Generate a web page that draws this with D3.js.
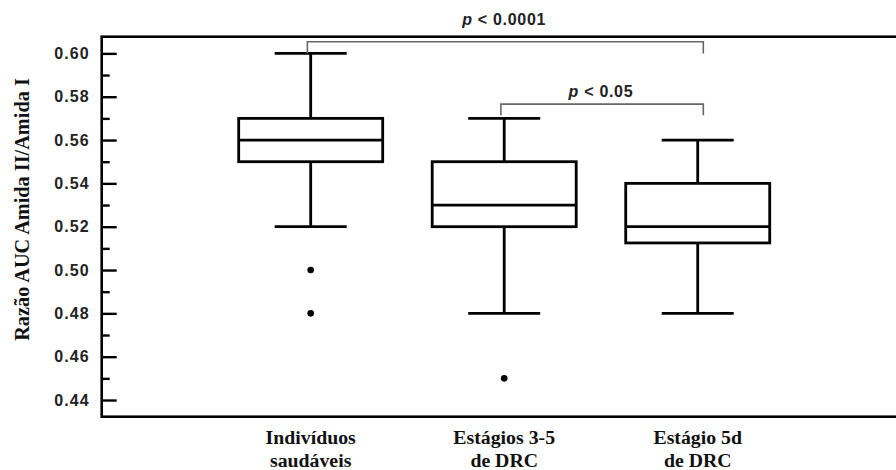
<!DOCTYPE html>
<html>
<head>
<meta charset="utf-8">
<script src="https://cdn.jsdelivr.net/npm/d3@7"></script>
<style>
  body { margin: 0; background: #fff; }
  svg { display: block; }
</style>
</head>
<body>
<div id="chart"></div>
<script>
// box plot data
var groups = ["Indivíduos saudáveis", "Estágios 3-5 de DRC", "Estágio 5d de DRC"];
var groupLines = [["Indivíduos", "saudáveis"], ["Estágios 3-5", "de DRC"], ["Estágio 5d", "de DRC"]];
var whiskerLow = [0.52, 0.48, 0.48];
var q1 = [0.55, 0.52, 0.5125];
var medians = [0.56, 0.53, 0.52];
var q3 = [0.57, 0.55, 0.54];
var whiskerHigh = [0.60, 0.57, 0.56];
var outliers = [[0.50, 0.48], [0.45], []];
var majorTicks = [0.44, 0.46, 0.48, 0.50, 0.52, 0.54, 0.56, 0.58, 0.60];
var minorTicks = [0.45, 0.47, 0.49, 0.51, 0.53, 0.55, 0.57, 0.59];

// significance brackets: from group, to group, bar level, leg end, label
var brackets = [
  { from: 0, to: 2, level: 0.6054, leg: 0.60, label: "< 0.0001", textY: 25 },
  { from: 1, to: 2, level: 0.5766, leg: 0.5715, label: "< 0.05", textY: 97 }
];

var W = 896, H = 470;
var plotLeft = 101.7, plotTop = 36.7, plotBottom = 416.7;

var svg = d3.select("#chart").append("svg")
  .attr("width", W)
  .attr("height", H);

var y = d3.scaleLinear()
  .domain([0.4323, 0.6077])
  .range([plotBottom, plotTop]);

var x = d3.scalePoint()
  .domain(groups)
  .range([plotLeft, 906.7])
  .padding(1.08);

var boxW = 144, capW = 72;

// frame (right side runs off the picture)
svg.append("rect")
  .attr("x", plotLeft)
  .attr("y", plotTop)
  .attr("width", 900 - plotLeft)
  .attr("height", plotBottom - plotTop)
  .style("fill", "none")
  .style("stroke", "#000")
  .style("stroke-width", 2.6);

// y axis, ticks point inward
var yAxis = d3.axisLeft(y)
  .tickValues(majorTicks)
  .tickSize(-15)
  .tickPadding(12)
  .tickFormat(d3.format(".2f"));

var gy = svg.append("g")
  .attr("transform", "translate(" + plotLeft + ",0)")
  .call(yAxis);
gy.select(".domain").remove();
gy.selectAll("line").style("stroke", "#000").style("stroke-width", 2.4);
gy.selectAll("text")
  .style("font-family", "Liberation Sans, Arial, sans-serif")
  .style("font-weight", "bold")
  .style("font-size", "16px")
  .style("letter-spacing", "1.1px")
  .style("fill", "#222");

var gyMinor = svg.append("g")
  .attr("transform", "translate(" + plotLeft + ",0)")
  .call(d3.axisLeft(y).tickValues(minorTicks).tickSize(-8).tickFormat(""));
gyMinor.select(".domain").remove();
gyMinor.selectAll("line").style("stroke", "#000").style("stroke-width", 2.4);

svg.append("text")
  .attr("transform", "translate(22,209.5) rotate(-90)")
  .attr("dy", "0.35em")
  .style("text-anchor", "middle")
  .style("font-family", "Liberation Serif, Times New Roman, serif")
  .style("font-weight", "bold")
  .style("font-size", "20.3px")
  .style("fill", "#111")
  .text("Razão AUC Amida II/Amida I");

// boxes
var box = svg.selectAll(".box")
  .data(groups)
  .enter().append("g")
  .attr("class", "box");

box.each(function (g, i) {
  var sel = d3.select(this);
  var cx = x(g);
  var lw = 2.8;

  sel.append("line")
    .attr("x1", cx).attr("x2", cx)
    .attr("y1", y(whiskerHigh[i])).attr("y2", y(q3[i]))
    .style("stroke", "#000").style("stroke-width", lw);
  sel.append("line")
    .attr("x1", cx).attr("x2", cx)
    .attr("y1", y(q1[i])).attr("y2", y(whiskerLow[i]))
    .style("stroke", "#000").style("stroke-width", lw);

  [whiskerHigh[i], whiskerLow[i]].forEach(function (v) {
    sel.append("line")
      .attr("x1", cx - capW / 2).attr("x2", cx + capW / 2)
      .attr("y1", y(v)).attr("y2", y(v))
      .style("stroke", "#000").style("stroke-width", lw);
  });

  sel.append("rect")
    .attr("x", cx - boxW / 2)
    .attr("y", y(q3[i]))
    .attr("width", boxW)
    .attr("height", y(q1[i]) - y(q3[i]))
    .style("fill", "#fff")
    .style("stroke", "#000")
    .style("stroke-width", lw);

  sel.append("line")
    .attr("x1", cx - boxW / 2).attr("x2", cx + boxW / 2)
    .attr("y1", y(medians[i])).attr("y2", y(medians[i]))
    .style("stroke", "#000").style("stroke-width", lw);

  sel.selectAll(".out")
    .data(outliers[i])
    .enter().append("circle")
    .attr("cx", cx)
    .attr("cy", function (d) { return y(d); })
    .attr("r", 3.3)
    .style("fill", "#000");

  // category label, two lines
  groupLines[i].forEach(function (t, k) {
    sel.append("text")
      .attr("x", cx)
      .attr("y", 444 + k * 22.5)
      .style("text-anchor", "middle")
      .style("font-family", "Liberation Serif, Times New Roman, serif")
      .style("font-weight", "bold")
      .style("font-size", "19.8px")
      .style("fill", "#111")
      .text(t);
  });
});

// brackets
brackets.forEach(function (b) {
  var x1 = x(groups[b.from]) - 3.3;
  var x2 = x(groups[b.to]) + 5.6;
  var path = d3.path();
  path.moveTo(x1, y(b.leg));
  path.lineTo(x1, y(b.level));
  path.lineTo(x2, y(b.level));
  path.lineTo(x2, y(b.leg));
  svg.append("path")
    .attr("d", path.toString())
    .style("fill", "none")
    .style("stroke", "#666")
    .style("stroke-width", 1.6);

  var t = svg.append("text")
    .attr("x", (x(groups[b.from]) + x(groups[b.to])) / 2)
    .attr("y", b.textY)
    .style("text-anchor", "middle")
    .style("font-family", "Liberation Sans, Arial, sans-serif")
    .style("font-weight", "bold")
    .style("font-size", "16px")
    .style("letter-spacing", "0.7px")
    .style("fill", "#222");
  t.append("tspan").style("font-style", "italic").text("p");
  t.append("tspan").text(" " + b.label);
});
</script>
</body>
</html>
